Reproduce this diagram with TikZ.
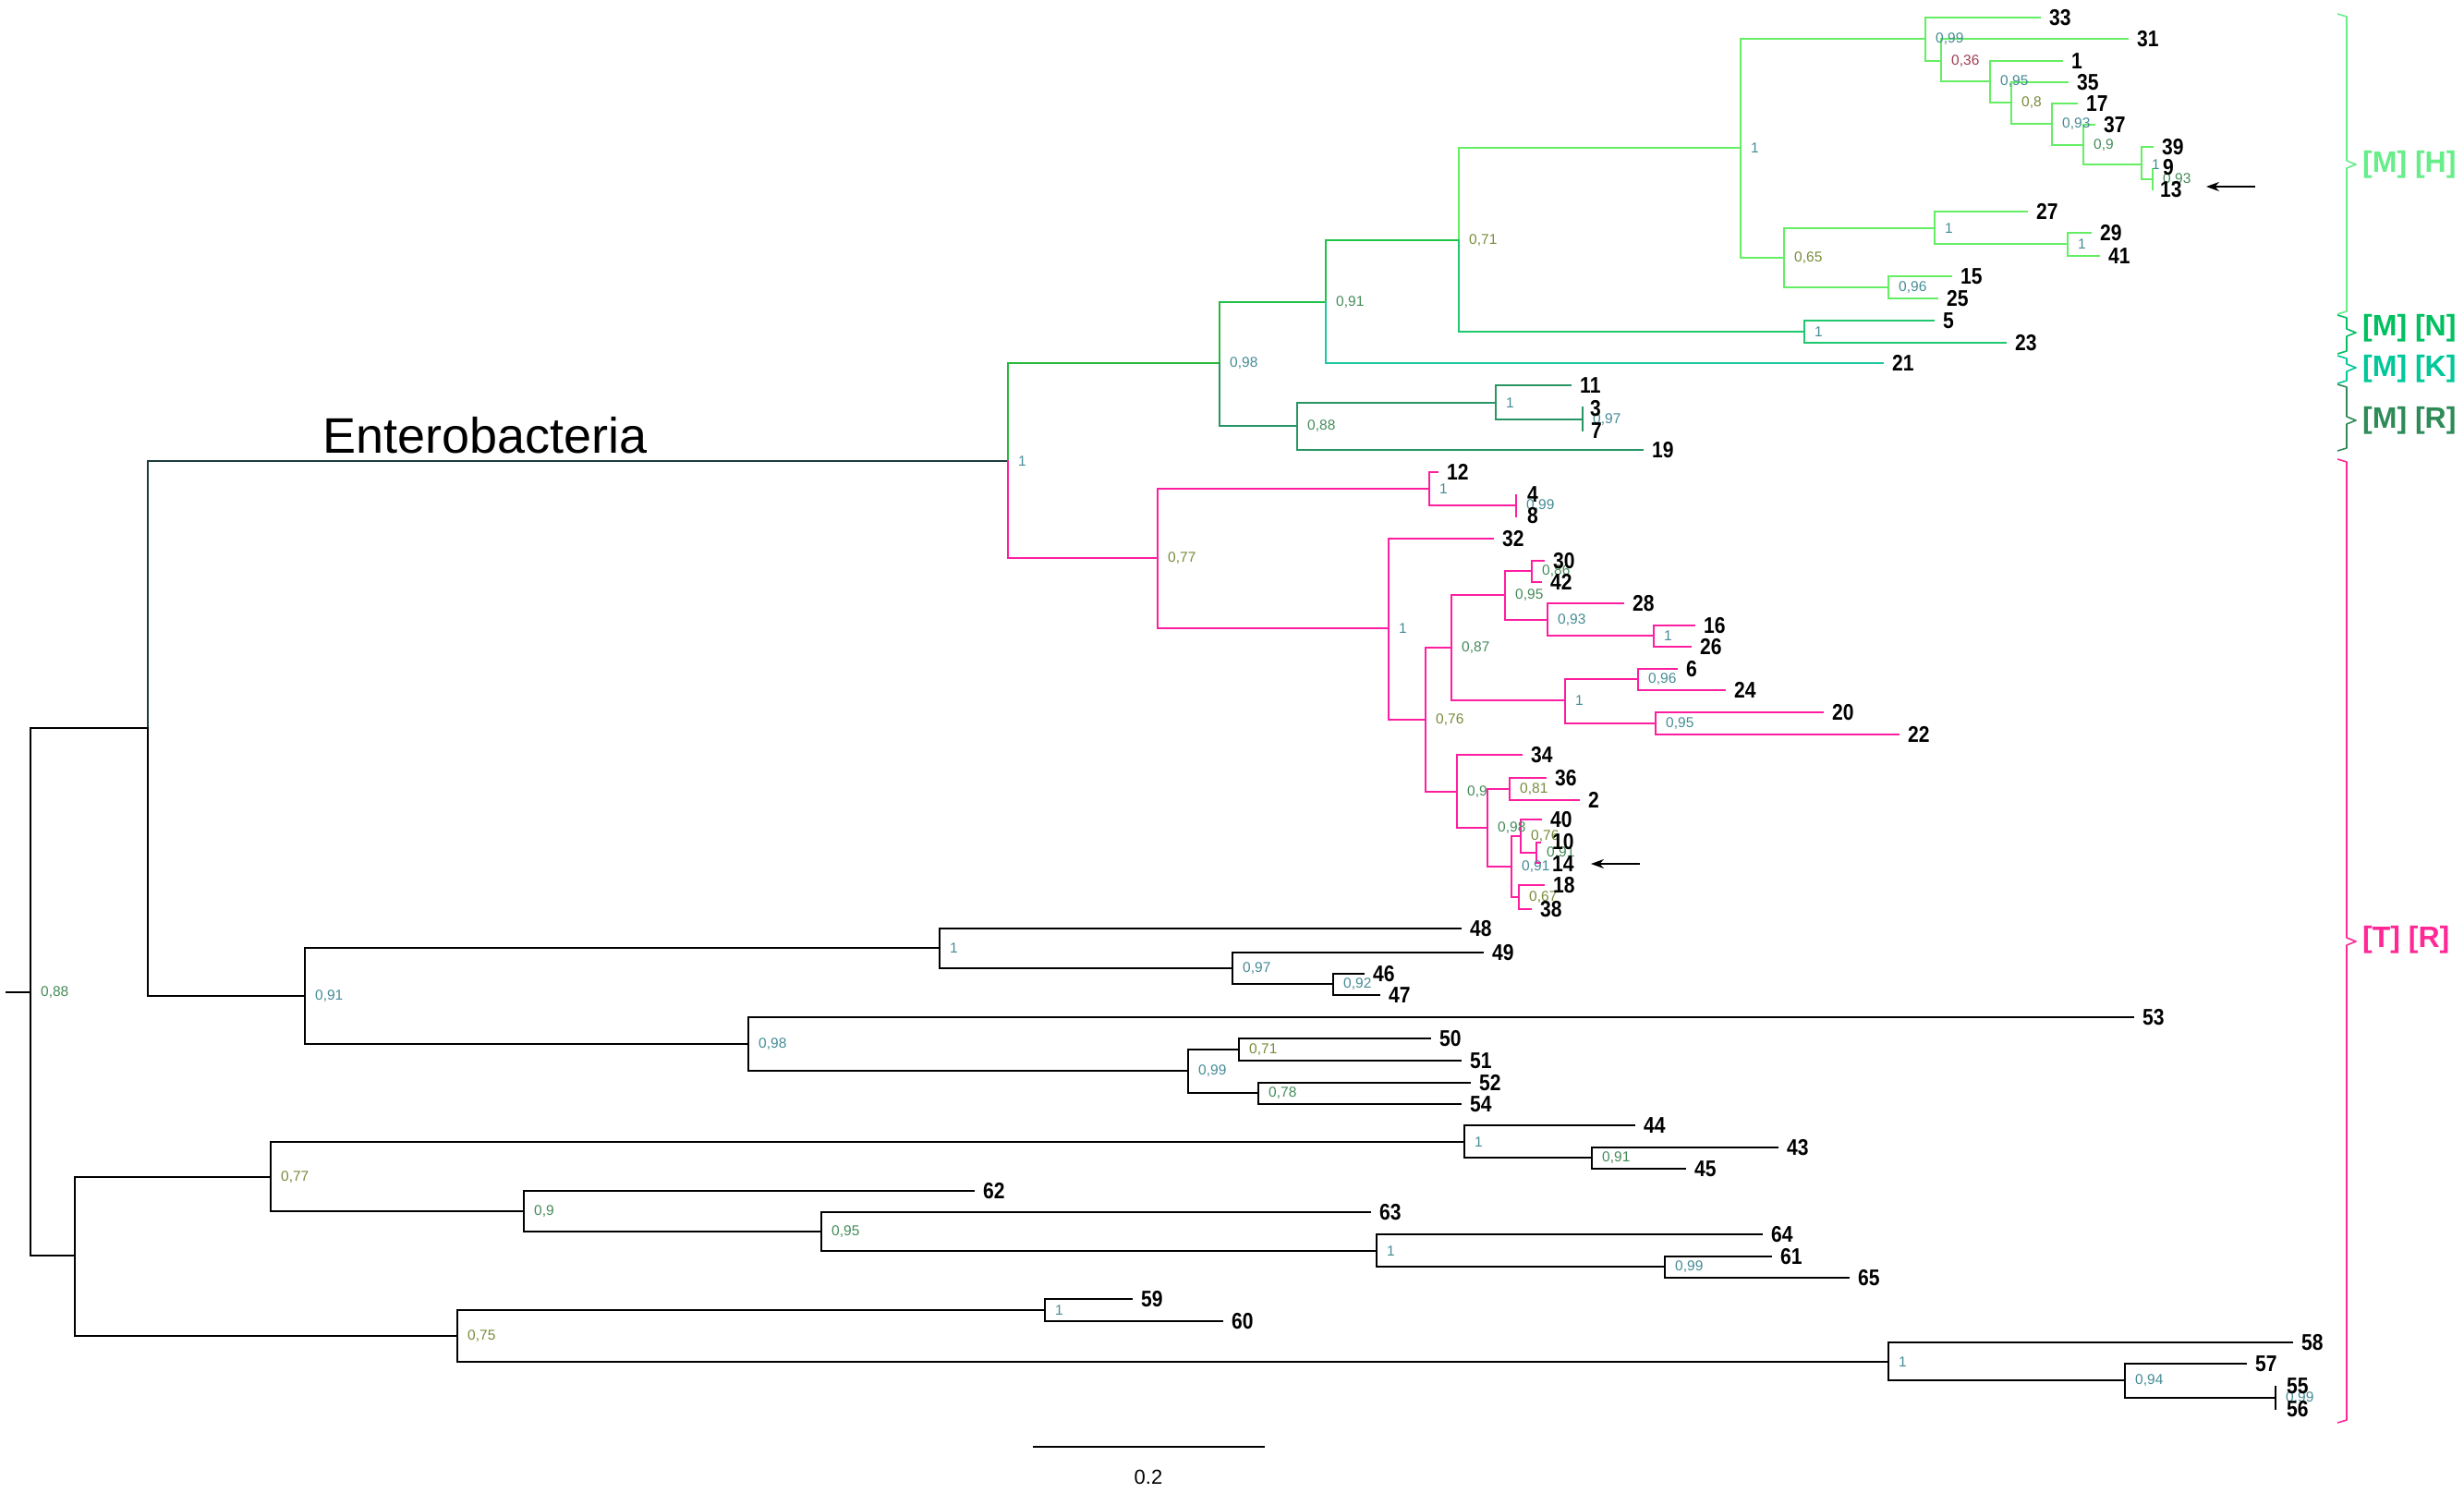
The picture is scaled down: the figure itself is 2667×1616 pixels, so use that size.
\documentclass[tikz,border=0pt]{standalone}
\usepackage{fontspec}
\setmainfont{Liberation Sans}
\newfontfamily\leaffont[FakeStretch=0.86]{Liberation Sans}
\usetikzlibrary{arrows.meta}
\definecolor{lgreen}{RGB}{100,238,100}
\definecolor{mgreen}{RGB}{30,200,110}
\definecolor{gO}{RGB}{30,195,70}
\definecolor{gP}{RGB}{40,185,60}
\definecolor{tealc}{RGB}{30,200,160}
\definecolor{sea}{RGB}{40,150,100}
\definecolor{pinkc}{RGB}{255,30,160}
\definecolor{dslate}{RGB}{30,60,60}
\definecolor{supT}{RGB}{70,140,150}
\definecolor{supG}{RGB}{70,140,90}
\definecolor{supO}{RGB}{120,140,60}
\definecolor{supR}{RGB}{160,60,80}
\definecolor{cMH}{RGB}{102,238,136}
\definecolor{cMN}{RGB}{0,192,96}
\definecolor{cMK}{RGB}{0,200,154}
\definecolor{cMR}{RGB}{46,139,87}
\definecolor{cTR}{RGB}{255,40,150}
\newcommand{\mkv}[3]{\coordinate (v#1) at (#2,#3);}
\newcommand{\mkt}[3]{\coordinate (t#1) at (#2,#3);}
\newcommand{\pair}[4]{\draw[br,#1] (#3) -- (#2 |- #3) -- (#2 |- #4) -- (#4);}
\newcommand{\slab}[3]{\node[sup,text=#3] (s#1) at ([xshift=11pt]v#1) {#2};}
\newcommand{\llab}[1]{\node[leaf] (n#1) at ([xshift=10pt]t#1) {#1};}
\begin{document}
\begin{tikzpicture}[x=1pt,y=-1pt,
  br/.style={line width=2.4pt,line cap=rect,line join=miter},
  leaf/.style={anchor=west,inner sep=0pt,font=\leaffont\fontsize{24.5}{24.5}\selectfont\bfseries},
  sup/.style={anchor=west,inner sep=0pt,font=\fontsize{15.5}{15.5}\selectfont},
  grp/.style={anchor=west,inner sep=0pt,font=\fontsize{32}{32}\selectfont\bfseries},
  brk/.style={line width=1.6pt,line join=round},
  arr/.style={line width=2pt,-{Stealth[length=14pt,width=10pt]}}]
\useasboundingbox (0,0) rectangle (2667,1616);
\fill[white] (0,0) rectangle (2667,1616);
% internal nodes
\mkv{R0}{33}{1074}\mkv{BA}{160}{788}\mkv{T}{1091}{499}\mkv{P}{1320}{393}
\mkv{O}{1435}{327}\mkv{N}{1579}{260}\mkv{Hr}{1884}{160}\mkv{A}{2084}{42}
\mkv{B}{2101}{66}\mkv{C}{2154}{88}\mkv{E}{2177}{111}\mkv{F}{2221}{134}
\mkv{G}{2255}{157}\mkv{H}{2318}{178}\mkv{I}{2330}{194}\mkv{D}{1931}{279}
\mkv{J}{2094}{247}\mkv{K}{2238}{264}\mkv{L}{2044}{311}\mkv{M}{1953}{359}
\mkv{Q}{1404}{461}\mkv{R}{1619}{436}\mkv{S}{1713}{454}\mkv{U}{1253}{604}
\mkv{V}{1547}{529}\mkv{W}{1641}{547}\mkv{X}{1503}{680}\mkv{Y}{1543}{779}
\mkv{Z}{1571}{701}\mkv{AA}{1629}{644}\mkv{AB}{1658}{618}\mkv{AC}{1675}{671}
\mkv{AD}{1790}{688}\mkv{AE}{1694}{758}\mkv{AF}{1773}{735}\mkv{AG}{1792}{783}
\mkv{AH}{1577}{857}\mkv{AI}{1610}{896}\mkv{AJ}{1634}{854}\mkv{AK}{1636}{938}
\mkv{AL}{1646}{905}\mkv{AM}{1663}{923}\mkv{AN}{1644}{971}\mkv{BB}{330}{1078}
\mkv{AO}{1017}{1026}\mkv{AP}{1334}{1048}\mkv{AQ}{1443}{1065}\mkv{BC}{810}{1130}
\mkv{AR}{1286}{1159}\mkv{AS}{1341}{1136}\mkv{AT}{1362}{1183}\mkv{BD}{81}{1359}
\mkv{BE}{293}{1274}\mkv{AU}{1585}{1236}\mkv{AV}{1723}{1253}\mkv{BF}{567}{1311}
\mkv{BG}{889}{1333}\mkv{BH}{1490}{1354}\mkv{BJ}{1802}{1371}\mkv{BI}{495}{1446}
\mkv{BK}{1131}{1418}\mkv{BL}{2044}{1474}\mkv{BM}{2300}{1494}\mkv{BN}{2463}{1513}
\coordinate (rs) at (7,1074);
% tips
\mkt{33}{2208}{19}\mkt{31}{2303}{42}\mkt{1}{2232}{66}\mkt{35}{2238}{89}
\mkt{17}{2248}{112}\mkt{37}{2267}{135}\mkt{39}{2330}{159}\mkt{9}{2330}{183}
\mkt{13}{2330}{205}\mkt{27}{2194}{229}\mkt{29}{2263}{252}\mkt{41}{2272}{277}
\mkt{15}{2112}{299}\mkt{25}{2097}{323}\mkt{5}{2093}{347}\mkt{23}{2171}{371}
\mkt{21}{2038}{393}\mkt{11}{1700}{417}\mkt{3}{1713}{441}\mkt{7}{1713}{466}
\mkt{19}{1778}{487}\mkt{12}{1556}{511}\mkt{4}{1641}{536}\mkt{8}{1641}{559}
\mkt{32}{1616}{583}\mkt{30}{1671}{607}\mkt{42}{1668}{630}\mkt{28}{1757}{653}
\mkt{16}{1834}{677}\mkt{26}{1830}{700}\mkt{6}{1815}{724}\mkt{24}{1867}{747}
\mkt{20}{1973}{771}\mkt{22}{2055}{795}\mkt{34}{1647}{817}\mkt{36}{1673}{842}
\mkt{2}{1709}{866}\mkt{40}{1668}{887}\mkt{10}{1667}{912}\mkt{14}{1667}{934}
\mkt{18}{1671}{958}\mkt{38}{1657}{984}\mkt{48}{1581}{1005}\mkt{49}{1605}{1031}
\mkt{46}{1476}{1054}\mkt{47}{1493}{1077}\mkt{53}{2309}{1101}\mkt{50}{1548}{1124}
\mkt{51}{1581}{1148}\mkt{52}{1591}{1172}\mkt{54}{1581}{1195}\mkt{44}{1769}{1218}
\mkt{43}{1924}{1242}\mkt{45}{1824}{1265}\mkt{62}{1054}{1289}\mkt{63}{1483}{1312}
\mkt{64}{1907}{1336}\mkt{61}{1917}{1360}\mkt{65}{2001}{1383}\mkt{59}{1225}{1406}
\mkt{60}{1323}{1430}\mkt{58}{2481}{1453}\mkt{57}{2431}{1476}\mkt{55}{2463}{1501}
\mkt{56}{2463}{1525}
% ---- branches ----
\draw[br] (rs) -- (vR0);
\pair{black}{vR0}{vBA}{vBD}
\draw[br,dslate] (vT) -- (vBA |- vT) -- (vBA);
\draw[br] (vBA) -- (vBA |- vBB) -- (vBB);
\draw[br,gP] (vP) -- (vT |- vP) -- (vT);
\draw[br,pinkc] (vT) -- (vT |- vU) -- (vU);
\draw[br,gO] (vO) -- (vP |- vO) -- (vP);
\draw[br,gP] (vP |- vO) -- (vP);
\draw[br,sea] (vP) -- (vP |- vQ) -- (vQ);
\draw[br,gO] (vN) -- (vO |- vN) -- (vO);
\draw[br,tealc] (vO) -- (vO |- t21) -- (t21);
\draw[br,lgreen] (vHr) -- (vN |- vHr) -- (vN);
\draw[br,mgreen] (vN) -- (vN |- vM) -- (vM);
\pair{mgreen}{vM}{t5}{t23}
\pair{lgreen}{vHr}{vA}{vD}
\pair{lgreen}{vA}{t33}{vB}
\pair{lgreen}{vB}{t31}{vC}
\pair{lgreen}{vC}{t1}{vE}
\pair{lgreen}{vE}{t35}{vF}
\pair{lgreen}{vF}{t17}{vG}
\pair{lgreen}{vG}{t37}{vH}
\pair{lgreen}{vH}{t39}{vI}
\draw[br,lgreen] (t9) -- (t13);
\pair{lgreen}{vD}{vJ}{vL}
\pair{lgreen}{vJ}{t27}{vK}
\pair{lgreen}{vK}{t29}{t41}
\pair{lgreen}{vL}{t15}{t25}
\pair{sea}{vQ}{vR}{t19}
\pair{sea}{vR}{t11}{vS}
\draw[br,sea] (t3) -- (t7);
\pair{pinkc}{vU}{vV}{vX}
\pair{pinkc}{vV}{t12}{vW}
\draw[br,pinkc] (t4) -- (t8);
\pair{pinkc}{vX}{t32}{vY}
\pair{pinkc}{vY}{vZ}{vAH}
\pair{pinkc}{vZ}{vAA}{vAE}
\pair{pinkc}{vAA}{vAB}{vAC}
\pair{pinkc}{vAB}{t30}{t42}
\pair{pinkc}{vAC}{t28}{vAD}
\pair{pinkc}{vAD}{t16}{t26}
\pair{pinkc}{vAE}{vAF}{vAG}
\pair{pinkc}{vAF}{t6}{t24}
\pair{pinkc}{vAG}{t20}{t22}
\pair{pinkc}{vAH}{t34}{vAI}
\pair{pinkc}{vAI}{vAJ}{vAK}
\pair{pinkc}{vAJ}{t36}{t2}
\pair{pinkc}{vAK}{vAL}{vAN}
\pair{pinkc}{vAL}{t40}{vAM}
\pair{pinkc}{vAM}{t10}{t14}
\pair{pinkc}{vAN}{t18}{t38}
\pair{black}{vBB}{vAO}{vBC}
\pair{black}{vAO}{t48}{vAP}
\pair{black}{vAP}{t49}{vAQ}
\pair{black}{vAQ}{t46}{t47}
\pair{black}{vBC}{t53}{vAR}
\pair{black}{vAR}{vAS}{vAT}
\pair{black}{vAS}{t50}{t51}
\pair{black}{vAT}{t52}{t54}
\pair{black}{vBD}{vBE}{vBI}
\pair{black}{vBE}{vAU}{vBF}
\pair{black}{vAU}{t44}{vAV}
\pair{black}{vAV}{t43}{t45}
\pair{black}{vBF}{t62}{vBG}
\pair{black}{vBG}{t63}{vBH}
\pair{black}{vBH}{t64}{vBJ}
\pair{black}{vBJ}{t61}{t65}
\pair{black}{vBI}{vBK}{vBL}
\pair{black}{vBK}{t59}{t60}
\pair{black}{vBL}{t58}{vBM}
\pair{black}{vBM}{t57}{vBN}
\draw[br] (t55) -- (t56);
% ---- support values ----
\slab{R0}{0,88}{supG}\slab{T}{1}{supT}\slab{P}{0,98}{supT}\slab{O}{0,91}{supG}
\slab{N}{0,71}{supO}\slab{Hr}{1}{supT}\slab{A}{0,99}{supT}\slab{B}{0,36}{supR}
\slab{C}{0,95}{supT}\slab{E}{0,8}{supO}\slab{F}{0,93}{supT}\slab{G}{0,9}{supG}
\slab{H}{1}{supT}\slab{I}{0,93}{supG}\slab{D}{0,65}{supO}\slab{J}{1}{supT}
\slab{K}{1}{supT}\slab{L}{0,96}{supT}\slab{M}{1}{supT}\slab{Q}{0,88}{supG}
\slab{R}{1}{supT}\slab{S}{0,97}{supT}\slab{U}{0,77}{supO}\slab{V}{1}{supT}
\slab{W}{0,99}{supT}\slab{X}{1}{supT}\slab{Y}{0,76}{supO}\slab{Z}{0,87}{supG}
\slab{AA}{0,95}{supG}\slab{AB}{0,86}{supG}\slab{AC}{0,93}{supT}\slab{AD}{1}{supT}
\slab{AE}{1}{supT}\slab{AF}{0,96}{supT}\slab{AG}{0,95}{supT}\slab{AH}{0,9}{supG}
\slab{AI}{0,98}{supG}\slab{AJ}{0,81}{supO}\slab{AK}{0,91}{supT}\slab{AL}{0,76}{supO}
\slab{AM}{0,91}{supG}\slab{AN}{0,67}{supO}\slab{BB}{0,91}{supT}\slab{AO}{1}{supT}
\slab{AP}{0,97}{supT}\slab{AQ}{0,92}{supT}\slab{BC}{0,98}{supT}\slab{AR}{0,99}{supT}
\slab{AS}{0,71}{supO}\slab{AT}{0,78}{supG}\slab{BE}{0,77}{supO}\slab{AU}{1}{supT}
\slab{AV}{0,91}{supG}\slab{BF}{0,9}{supG}\slab{BG}{0,95}{supG}\slab{BH}{1}{supT}
\slab{BJ}{0,99}{supT}\slab{BI}{0,75}{supO}\slab{BK}{1}{supT}\slab{BL}{1}{supT}
\slab{BM}{0,94}{supT}\slab{BN}{0,99}{supT}
% ---- leaf labels ----
\llab{33}\llab{31}\llab{1}\llab{35}\llab{17}\llab{37}\llab{39}
\node[leaf] (n9) at (2341,181) {9};
\node[leaf] (n13) at (2338,205) {13};
\llab{27}\llab{29}\llab{41}\llab{15}\llab{25}\llab{5}\llab{23}\llab{21}
\llab{11}\llab{19}\llab{12}\llab{32}
\node[leaf] (n3) at (1721,442) {3};
\node[leaf] (n7) at (1722,466) {7};
\node[leaf] (n4) at (1653,535) {4};
\node[leaf] (n8) at (1653,558) {8};
\llab{30}\llab{42}\llab{28}\llab{16}\llab{26}\llab{6}\llab{24}\llab{20}\llab{22}
\llab{34}\llab{36}\llab{2}\llab{40}
\node[leaf] (n10) at (1680,911) {10};
\node[leaf] (n14) at (1680,935) {14};
\llab{18}\llab{38}\llab{48}\llab{49}\llab{46}\llab{47}\llab{53}\llab{50}\llab{51}
\llab{52}\llab{54}\llab{44}\llab{43}\llab{45}\llab{62}\llab{63}\llab{64}\llab{61}
\llab{65}\llab{59}\llab{60}\llab{58}\llab{57}
\node[leaf] (n55) at (2475,1500) {55};
\node[leaf] (n56) at (2475,1525) {56};
% ---- clade label ----
\node[anchor=base west,inner sep=0pt,font=\fontsize{54}{54}\selectfont] (ent) at (349,490) {Enterobacteria};
% ---- arrows ----
\coordinate (a1s) at (2441,202); \coordinate (a1e) at (2388,202);
\draw[arr] (a1s) -- (a1e);
\coordinate (a2s) at (1775,935); \coordinate (a2e) at (1722,935);
\draw[arr] (a2s) -- (a2e);
% ---- group brackets ----
\draw[brk,cMH] (2530,15) -- (2540,18) -- (2540,174) -- (2550,178) -- (2540,182) -- (2540,337) -- (2530,340);
\draw[brk,cMN] (2530,341) -- (2540,344) -- (2540,356) -- (2550,360) -- (2540,364) -- (2540,380) -- (2530,383);
\draw[brk,cMK] (2530,385) -- (2540,388) -- (2540,394) -- (2550,398) -- (2540,402) -- (2540,412) -- (2530,415);
\draw[brk,cMR] (2530,416) -- (2540,419) -- (2540,451) -- (2550,455) -- (2540,459) -- (2540,485) -- (2530,488);
\draw[brk,cTR] (2530,497) -- (2540,500) -- (2540,1015) -- (2550,1019) -- (2540,1023) -- (2540,1537) -- (2530,1540);
\node[grp,text=cMH] (gMH) at (2557,178) {[M] [H]};
\node[grp,text=cMN] (gMN) at (2557,355) {[M] [N]};
\node[grp,text=cMK] (gMK) at (2557,399) {[M] [K]};
\node[grp,text=cMR] (gMR) at (2557,455) {[M] [R]};
\node[grp,text=cTR] (gTR) at (2557,1017) {[T] [R]};
% ---- scale bar ----
\coordinate (sb1) at (1118,1566); \coordinate (sb2) at (1369,1566);
\draw[line width=2.5pt] (sb1) -- (sb2);
\node[inner sep=0pt,font=\fontsize{22}{22}\selectfont] (sbl) at (1243,1599) {0.2};
\end{tikzpicture}
\end{document}
